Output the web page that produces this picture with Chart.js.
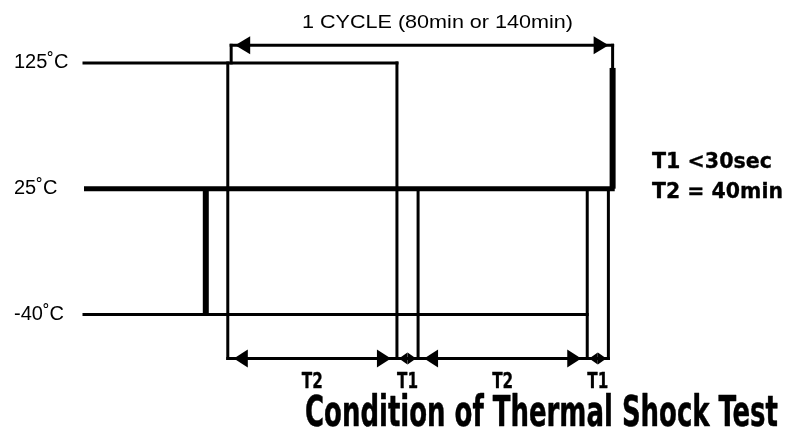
<!DOCTYPE html>
<html>
<head>
<meta charset="utf-8">
<script src="https://cdn.jsdelivr.net/npm/chart.js@4/dist/chart.umd.min.js"></script>
<style>
  body { margin: 0; background: #fff; }
  canvas { display: block; }
</style>
</head>
<body>
<canvas id="shockChart" width="786" height="434"></canvas>
<script>
// temperature levels (drawn evenly spaced, like the original sketch)
const tempLabels = ['-40˚C', '25˚C', '125˚C'];
const tempLevels = [0, 1, 2];

// one cycle, in schematic minutes (T1 is drawn much wider than to scale)
const phaseNames = ['T2', 'T1', 'T2', 'T1'];
const phaseEdges = [0, 40, 45, 85, 90];
const edgeTops = [2, 2, 1, 1, 1]; // level each edge line starts from

const lineStart = -34;
const hotEnd = 40;
const coldEnd = 85;
const ambientEnd = 91.5;
const preStep = -5.2;     // heavy step -40 -> 25 before the cycle
const cycleStart = 0.8;
const cycleEnd = 91;      // heavy step 25 -> 125 closing the cycle
const cycleStepTop = 1.96;
const cycleMark = 2.14;   // level of the "1 CYCLE" arrow
const spanMark = -0.35;   // level of the T1 / T2 arrows

const cycleLabel = '1 CYCLE (80min or 140min)';
const notes = ['T1 <30sec', 'T2 = 40min'];
const titleText = 'Condition of Thermal Shock Test';

const narrow = '"Liberation Sans Narrow", "Arial Narrow", "DejaVu Sans Condensed", sans-serif';
const plain = '"Liberation Sans", Arial, Helvetica, sans-serif';

// build line datasets
function seg(x1, y1, x2, y2, width, extra) {
    return Object.assign({
        data: [{ x: x1, y: y1 }, { x: x2, y: y2 }],
        showLine: true,
        borderColor: '#000',
        borderWidth: width,
        borderCapStyle: width > 4 ? 'butt' : 'square',
        pointRadius: 0,
        clip: false
    }, extra || {});
}

const datasets = [
    seg(lineStart, 2, hotEnd, 2, 3),
    seg(lineStart, 1, ambientEnd, 1, 5),
    seg(lineStart, 0, coldEnd, 0, 3),
    seg(preStep, 0, preStep, 1, 6),
    seg(cycleStart, 2, cycleStart, cycleMark, 3),
    seg(cycleEnd, 1, cycleEnd, cycleStepTop, 6),
    seg(cycleEnd, cycleStepTop, cycleEnd, cycleMark, 3),
    seg(cycleStart, cycleMark, cycleEnd, cycleMark, 3, { heads: { inset: 4, len: 15, half: 9 } })
];
phaseEdges.forEach((e, i) => {
    datasets.push(seg(e, edgeTops[i], e, spanMark, 3));
});
phaseNames.forEach((name, i) => {
    const short = name === 'T1';
    datasets.push(seg(phaseEdges[i], spanMark, phaseEdges[i + 1], spanMark, 3,
        { heads: short ? { inset: 2, len: 8.5, half: 6 } : { inset: 6, len: 14, half: 9 } }));
});

// filled arrow heads at both ends of flagged segments
const arrowHeads = {
    id: 'arrowHeads',
    afterDatasetsDraw(chart) {
        const ctx = chart.ctx;
        chart.data.datasets.forEach((ds, i) => {
            if (!ds.heads) return;
            const pts = chart.getDatasetMeta(i).data;
            const a = pts[0], b = pts[pts.length - 1];
            const dx = b.x - a.x, dy = b.y - a.y;
            const d = Math.hypot(dx, dy);
            const ux = dx / d, uy = dy / d;
            const h = ds.heads;
            [[b.x, b.y, ux, uy], [a.x, a.y, -ux, -uy]].forEach(([px, py, vx, vy]) => {
                const tx = px - vx * h.inset, ty = py - vy * h.inset;
                const bx = tx - vx * h.len, by = ty - vy * h.len;
                ctx.save();
                ctx.fillStyle = '#000';
                ctx.beginPath();
                ctx.moveTo(tx, ty);
                ctx.lineTo(bx - vy * h.half, by + vx * h.half);
                ctx.lineTo(bx + vy * h.half, by - vx * h.half);
                ctx.closePath();
                ctx.fill();
                ctx.restore();
            });
        });
    }
};

// draw text squeezed/stretched to a given width; heavy adds a thin outline
function fitText(ctx, text, left, right, baseline, font, heavy) {
    ctx.save();
    ctx.font = font;
    const w = ctx.measureText(text).width;
    ctx.translate(left, baseline);
    ctx.scale((right - left) / w, 1);
    ctx.textAlign = 'left';
    ctx.textBaseline = 'alphabetic';
    ctx.fillStyle = '#000';
    ctx.fillText(text, 0, 0);
    if (heavy) {
        ctx.strokeStyle = '#000';
        ctx.lineWidth = heavy;
        ctx.lineJoin = 'round';
        ctx.strokeText(text, 0, 0);
    }
    ctx.restore();
}

// labels around the diagram
const labels = {
    id: 'labels',
    afterDraw(chart) {
        const ctx = chart.ctx;
        const xs = chart.scales.x, ys = chart.scales.y;

        const cy = ys.getPixelForValue(cycleMark);
        fitText(ctx, cycleLabel, 302, 573, cy - 17, '19px ' + plain);

        const sy = ys.getPixelForValue(spanMark);
        phaseNames.forEach((name, i) => {
            const mid = xs.getPixelForValue((phaseEdges[i] + phaseEdges[i + 1]) / 2);
            fitText(ctx, name, mid - 10.5, mid + 10.5, sy + 29, 'bold 21px ' + narrow, 0.3);
        });

        fitText(ctx, notes[0], 652, 772, 168, 'bold 22px ' + narrow, 0.3);
        fitText(ctx, notes[1], 652, 783, 198, 'bold 22px ' + narrow, 0.3);
        fitText(ctx, titleText, 305, 778, 426, 'bold 42px ' + narrow, 0.5);
    }
};

new Chart(document.getElementById('shockChart'), {
    type: 'scatter',
    data: { datasets: datasets },
    options: {
        responsive: false,
        devicePixelRatio: 1,
        animation: false,
        events: [],
        layout: { padding: { left: 14, right: 0, top: 0, bottom: 0 } },
        plugins: { legend: { display: false }, tooltip: { enabled: false } },
        scales: {
            x: { type: 'linear', display: false, min: -34, max: 132 },
            y: {
                type: 'linear',
                min: -0.95,
                max: 2.5,
                grid: { display: false, drawTicks: false },
                border: { display: false },
                afterBuildTicks(scale) {
                    scale.ticks = tempLevels.map(v => ({ value: v }));
                },
                afterFit(scale) {
                    scale.width = 70;
                    scale.paddingTop = 0;
                    scale.paddingBottom = 0;
                },
                ticks: {
                    crossAlign: 'far',
                    color: '#000',
                    font: { family: plain, size: 20 },
                    callback: v => tempLabels[tempLevels.indexOf(v)]
                }
            }
        }
    },
    plugins: [arrowHeads, labels]
});
</script>
</body>
</html>
